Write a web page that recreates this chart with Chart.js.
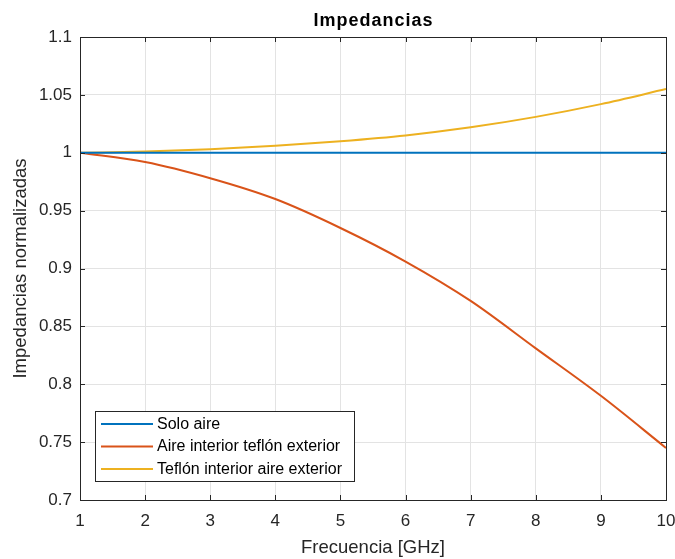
<!DOCTYPE html>
<html>
<head>
<meta charset="utf-8">
<script src="https://cdn.jsdelivr.net/npm/chart.js@4/dist/chart.umd.min.js"></script>
<style>
html,body{margin:0;padding:0;background:#fff;}
#wrap{width:675px;height:559px;position:relative;}
</style>
</head>
<body>
<div id="wrap"><canvas id="c" width="675" height="559"></canvas></div>
<script>
const chartTitle = "Impedancias";
const xTitle = "Frecuencia [GHz]";
const yTitle = "Impedancias normalizadas";
const frecuencia = [1, 2, 3, 4, 5, 6, 7, 8, 9, 10];
const soloAire = [1, 1, 1, 1, 1, 1, 1, 1, 1, 1];
const aireInteriorTeflonExterior = [1.000, 0.992, 0.978, 0.960, 0.935, 0.906, 0.872, 0.831, 0.790, 0.745];
const teflonInteriorAireExterior = [1.000, 1.001, 1.003, 1.006, 1.010, 1.015, 1.022, 1.031, 1.042, 1.055];
const seriesLabels = ["Solo aire", "Aire interior teflón exterior", "Teflón interior aire exterior"];
const seriesColors = ["#0072BD", "#D95319", "#EDB120"];

const toXY = arr => arr.map((v, i) => ({x: frecuencia[i], y: v}));
const FONT = "'Liberation Sans', Arial, sans-serif";
const TXT = "#262626";

const boxPlugin = {
  id: 'box',
  afterDatasetsDraw(chart) {
    const {ctx, chartArea: a, scales} = chart;
    ctx.save();
    ctx.strokeStyle = TXT;
    ctx.lineWidth = 1;
    const tl = 5;
    ctx.beginPath();
    scales.x.ticks.forEach(t => {
      const px = Math.round(scales.x.getPixelForValue(t.value)) + 0.5;
      ctx.moveTo(px, a.bottom); ctx.lineTo(px, a.bottom - tl);
      ctx.moveTo(px, a.top); ctx.lineTo(px, a.top + tl);
    });
    scales.y.ticks.forEach(t => {
      const py = Math.round(scales.y.getPixelForValue(t.value)) + 0.5;
      ctx.moveTo(a.left, py); ctx.lineTo(a.left + tl, py);
      ctx.moveTo(a.right, py); ctx.lineTo(a.right - tl, py);
    });
    ctx.stroke();
    ctx.strokeRect(Math.round(a.left) + 0.5, Math.round(a.top) + 0.5, Math.round(a.right - a.left), Math.round(a.bottom - a.top));
    // title
    ctx.fillStyle = "#000";
    ctx.font = "bold 18px " + FONT;
    ctx.textAlign = "center";
    ctx.textBaseline = "middle";
    try { ctx.letterSpacing = "1px"; } catch (e) {}
    ctx.fillText(chartTitle, (a.left + a.right) / 2 + 0.5, 21);
    try { ctx.letterSpacing = "0px"; } catch (e) {}
    // legend
    const lx = a.left + 15, ly = 411, lw = 259, lh = 70;
    ctx.fillStyle = "#fff";
    ctx.fillRect(lx, ly, lw, lh);
    ctx.strokeStyle = TXT;
    ctx.lineWidth = 1;
    ctx.strokeRect(lx + 0.5, ly + 0.5, lw, lh);
    ctx.font = "16px " + FONT;
    ctx.textAlign = "left";
    chart.data.datasets.forEach((ds, i) => {
      const yy = ly + 13 + i * 22.5;
      ctx.strokeStyle = ds.borderColor;
      ctx.lineWidth = 2;
      ctx.beginPath();
      ctx.moveTo(lx + 6, yy); ctx.lineTo(lx + 58, yy);
      ctx.stroke();
      ctx.fillStyle = "#000";
      ctx.fillText(ds.label, lx + 62, yy + 0.5);
    });
    ctx.restore();
  }
};

new Chart(document.getElementById('c'), {
  type: 'line',
  data: {
    datasets: [
      {label: seriesLabels[0], data: toXY(soloAire), borderColor: seriesColors[0]},
      {label: seriesLabels[1], data: toXY(aireInteriorTeflonExterior), borderColor: seriesColors[1]},
      {label: seriesLabels[2], data: toXY(teflonInteriorAireExterior), borderColor: seriesColors[2]}
    ].map(d => Object.assign(d, {borderWidth: 2, pointRadius: 0, fill: false, cubicInterpolationMode: 'monotone'}))
  },
  options: {
    responsive: false,
    animation: false,
    layout: {padding: {top: 37, right: 0, left: 0, bottom: 0}},
    plugins: {legend: {display: false}, title: {display: false}, tooltip: {enabled: false}},
    scales: {
      x: {
        type: 'linear', min: 1, max: 10,
        afterFit: s => { s.height = 59; s.paddingRight = 9; },
        border: {display: false},
        grid: {color: '#e3e3e3', drawTicks: false},
        ticks: {stepSize: 1, padding: 11, color: TXT, font: {family: FONT, size: 17}},
        title: {display: true, text: xTitle, color: TXT, font: {family: FONT, size: 18.5}, padding: {top: 0, bottom: 0}}
      },
      y: {
        type: 'linear', min: 0.7, max: 1.1,
        afterFit: s => { s.width = 80; },
        border: {display: false},
        grid: {color: '#e3e3e3', drawTicks: false},
        ticks: {stepSize: 0.05, padding: 8, color: TXT, font: {family: FONT, size: 17},
          callback: v => String(Number(v.toFixed(2)))},
        title: {display: true, text: yTitle, color: TXT, font: {family: FONT, size: 18.5}, padding: {top: 10, bottom: 0}}
      }
    }
  },
  plugins: [boxPlugin]
});
</script>
</body>
</html>
